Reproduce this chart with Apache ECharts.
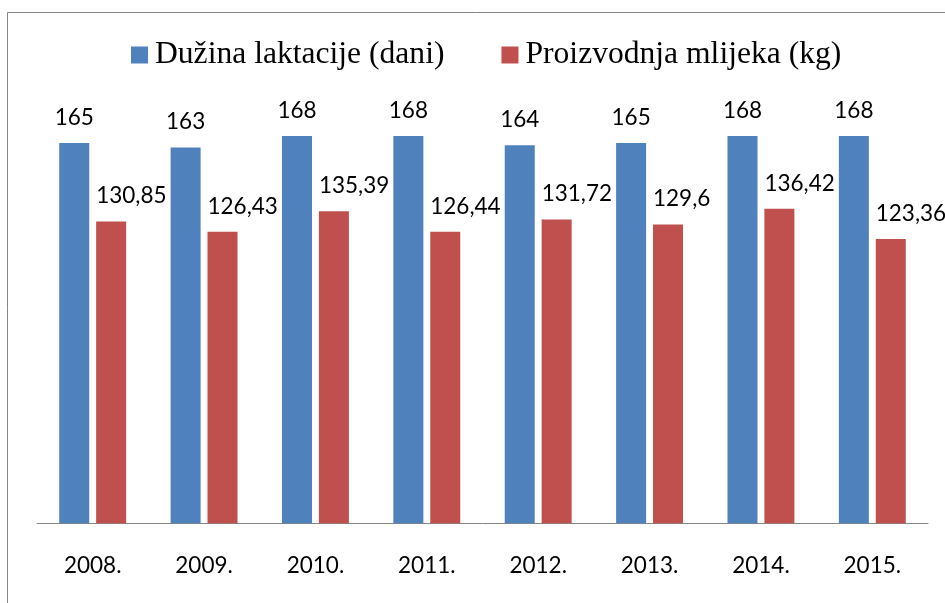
<!DOCTYPE html>
<html>
<head>
<meta charset="utf-8">
<script src="https://cdn.jsdelivr.net/npm/echarts@6/dist/echarts.min.js"></script>
<style>
html,body{margin:0;padding:0;background:#fff;}
#chart{width:945px;height:603px;}
</style>
</head>
<body>
<div id="chart"></div>
<script>
var categories = ['2008.', '2009.', '2010.', '2011.', '2012.', '2013.', '2014.', '2015.'];
var seriesNames = ['Dužina laktacije (dani)', 'Proizvodnja mlijeka (kg)'];
var lactation = [165, 163, 168, 168, 164, 165, 168, 168];
var milk = [130.85, 126.43, 135.39, 126.44, 131.72, 129.6, 136.42, 123.36];

function fmt(p) { return String(p.value).replace('.', ','); }

var chart = echarts.init(document.getElementById('chart'), null, {renderer: 'canvas'});
chart.setOption({
  animation: false,
  backgroundColor: '#ffffff',
  textStyle: {fontFamily: 'Liberation Serif'},
  graphic: [{
    type: 'rect',
    shape: {x: 7.5, y: 12.5, width: 1000, height: 1000},
    style: {fill: 'none', stroke: '#868686', lineWidth: 1},
    silent: true,
    z: 0
  }],
  legend: {
    left: 131,
    top: 39,
    padding: 0,
    itemWidth: 17,
    itemHeight: 17,
    itemGap: 57,
    icon: 'rect',
    textStyle: {fontFamily: 'Liberation Serif', fontSize: 31.6, color: '#000', padding: [0, 0, 0, 2]},
    data: seriesNames
  },
  grid: {left: 37, right: 17, top: 108.3, bottom: 79.7},
  xAxis: {
    type: 'category',
    data: categories,
    axisLine: {lineStyle: {color: '#868686', width: 1}},
    axisTick: {show: false},
    axisLabel: {fontFamily: 'Lato', fontSize: 22.5, color: '#000', margin: 31}
  },
  yAxis: {
    type: 'value',
    min: 0,
    max: 180,
    show: false,
    splitLine: {show: false}
  },
  series: [{
    name: seriesNames[0],
    type: 'bar',
    data: lactation,
    barWidth: 30,
    barGap: '23%',
    itemStyle: {color: '#4F81BD'},
    label: {
      show: true, position: 'top', distance: 14,
      fontFamily: 'Lato', fontSize: 22.5, color: '#000',
      formatter: fmt
    }
  }, {
    name: seriesNames[1],
    type: 'bar',
    data: milk,
    barWidth: 30,
    itemStyle: {color: '#C0504D'},
    label: {
      show: true, position: [0, -14], align: 'left', verticalAlign: 'bottom',
      fontFamily: 'Lato', fontSize: 22.5, color: '#000',
      formatter: fmt
    }
  }]
});
</script>
</body>
</html>
